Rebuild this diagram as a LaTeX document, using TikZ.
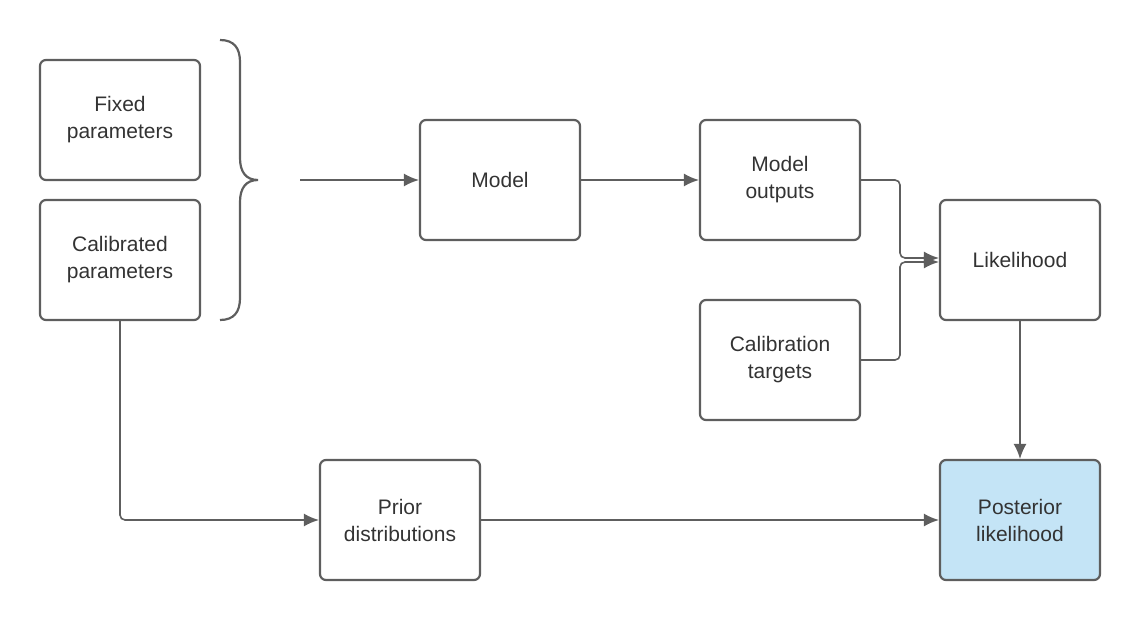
\documentclass[tikz,border=0pt]{standalone}
\usepackage{fontspec}
\setmainfont{Liberation Sans}
\usetikzlibrary{arrows,arrows.meta}
\tikzset{>={Latex[length=15pt,width=13pt]}}
\definecolor{g1}{HTML}{5E5E5E}
\definecolor{t1}{HTML}{333333}
\definecolor{b1}{HTML}{C4E4F6}
\tikzstyle{box}=[draw=g1,line width=2.2pt,rounded corners=6pt,minimum width=160pt,minimum height=120pt,align=center,text=t1,font=\fontsize{21}{27}\selectfont]
\tikzstyle{link}=[draw=g1,line width=1.6pt,->,rounded corners=5pt]
\begin{document}
\begin{tikzpicture}[x=1pt,y=-1pt]
  \useasboundingbox (0,0) rectangle (1140,620);
  \node[box] (fixed) at (120,120) {Fixed\\parameters};
  \node[box] (calib) at (120,260) {Calibrated\\parameters};
  \node[box] (model) at (500,180) {Model};
  \node[box] (out)   at (780,180) {Model\\outputs};
  \node[box] (lik)   at (1020,260) {Likelihood};
  \node[box] (targ)  at (780,360) {Calibration\\targets};
  \node[box] (prior) at (400,520) {Prior\\distributions};
  \node[box,fill=b1] (post) at (1020,520) {Posterior\\likelihood};
  % brace
  \draw[g1,line width=2.2pt] (220,40) .. controls (234,40) and (240,48) .. (240,62)
     -- (240,158) .. controls (240,172) and (246,180) .. (258,180)
     .. controls (246,180) and (240,188) .. (240,202)
     -- (240,298) .. controls (240,312) and (234,320) .. (220,320);
  \coordinate (brace) at (300,180);
  \draw[link] (brace) -- (model);
  \draw[link] (model) -- (out);
  \draw[link] (out.east) -| (900,220) |- ([yshift=2pt]lik.west);
  \draw[link] (targ.east) -| (900,300) |- ([yshift=-2pt]lik.west);
  \draw[link] (lik) -- (post);
  \draw[link] (calib.south) |- (prior.west);
  \draw[link] (prior) -- (post);
\end{tikzpicture}
\end{document}
